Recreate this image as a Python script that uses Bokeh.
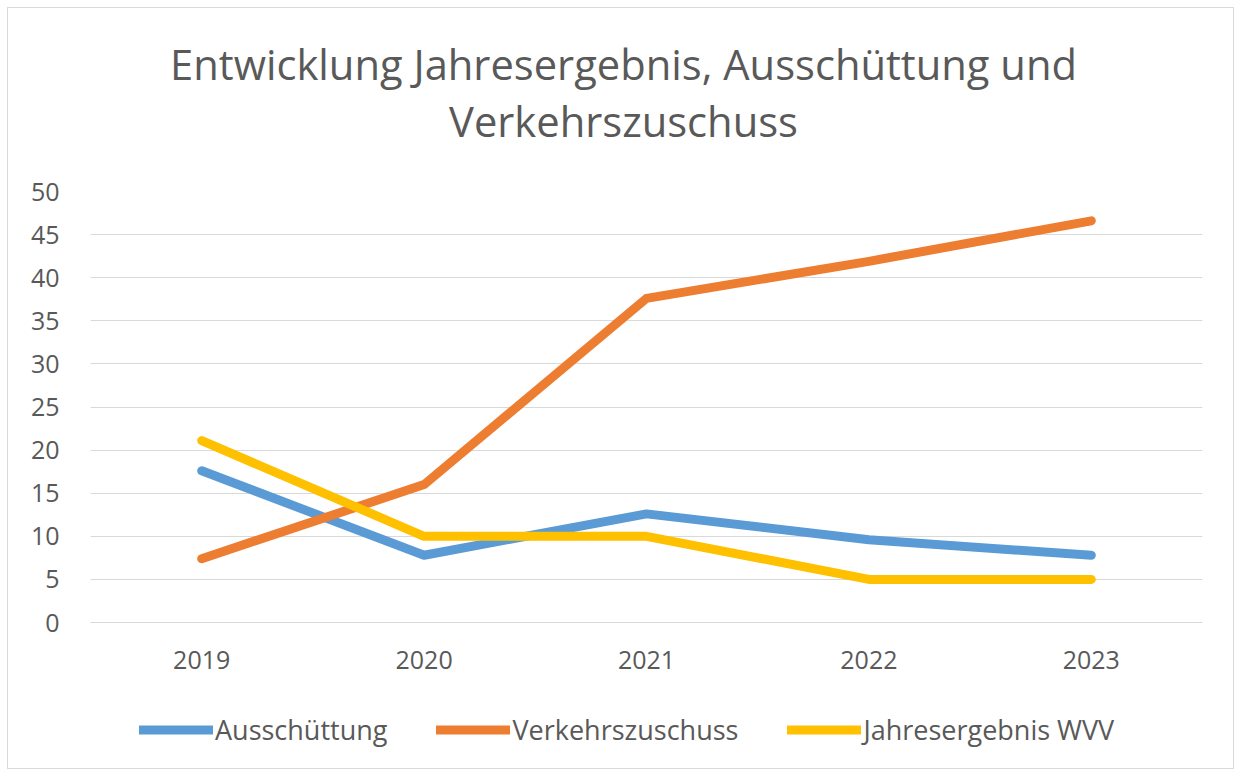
from bokeh.plotting import figure
from bokeh.layouts import column
from bokeh.models import Range1d, FactorRange, Legend, LegendItem, Label
from bokeh.embed import file_html
from bokeh.resources import INLINE

years = ["2019", "2020", "2021", "2022", "2023"]
ausschuettung = [17.6, 7.8, 12.6, 9.6, 7.8]
verkehrszuschuss = [7.4, 16.0, 37.6, 41.9, 46.6]
jahresergebnis = [21.1, 10.0, 10.0, 5.0, 5.0]
title_lines = ["Entwicklung Jahresergebnis, Ausschüttung und", "Verkehrszuschuss"]

series = [
    ("Ausschüttung", ausschuettung, "#5b9bd5"),
    ("Verkehrszuschuss", verkehrszuschuss, "#ed7d31"),
    ("Jahresergebnis WVV", jahresergebnis, "#ffc000"),
]

FONT = "Open Sans"
TXT = "#595959"
W = 1225
BL, BR = 82, 31  # side borders shared by all stacked figures (frames are aligned)


def strip(h, xr, yr):
    fig = figure(width=W, height=h, x_range=xr, y_range=yr,
                 output_backend="svg", toolbar_location=None,
                 x_axis_location=None, y_axis_location=None,
                 min_border_left=BL, min_border_right=BR,
                 min_border_top=0, min_border_bottom=0)
    fig.grid.grid_line_color = None
    fig.outline_line_color = None
    fig.border_fill_color = "white"
    fig.background_fill_color = "white"
    return fig


# ---- title strip (x/y in strip pixels)
TH = 150
pt = strip(TH, Range1d(BL, W - BR), Range1d(0, TH))
for txt, yy in zip(title_lines, [95, 38]):
    pt.add_layout(Label(x=615, y=yy, text=txt, text_align="center", text_baseline="middle",
                        text_font=FONT, text_font_size="41.7px", text_color=TXT))

# ---- main chart
p = figure(width=W, height=540, x_range=FactorRange(*years), y_range=Range1d(0, 50),
           output_backend="svg", toolbar_location=None,
           min_border_left=BL, min_border_right=BR, min_border_top=33, min_border_bottom=76)
p.outline_line_color = None
p.background_fill_color = "white"
p.border_fill_color = "white"

for name, vals, col in series:
    p.line(years, vals, line_color=col, line_width=9, line_cap="round", line_join="round")

p.xgrid.grid_line_color = None
p.ygrid.grid_line_color = "#d9d9d9"
p.ygrid.grid_line_width = 1

p.yaxis.axis_line_color = None
p.yaxis.major_tick_line_color = None
p.yaxis.minor_tick_line_color = None
p.yaxis.major_label_standoff = 25
p.yaxis.ticker = list(range(0, 51, 5))
p.yaxis.major_label_text_font = FONT
p.yaxis.major_label_text_font_size = "25px"
p.yaxis.major_label_text_color = TXT

p.xaxis.axis_line_color = "#d9d9d9"
p.xaxis.major_tick_line_color = None
p.xaxis.minor_tick_line_color = None
p.xaxis.major_label_standoff = 22
p.xaxis.major_label_text_font = FONT
p.xaxis.major_label_text_font_size = "25px"
p.xaxis.major_label_text_color = TXT

# ---- legend strip (legend glyphs come from lines drawn outside the strip's visible range)
pl = strip(70, Range1d(0, 1), Range1d(0, 1))
items = []
for name, vals, col in series:
    r = pl.line(x=[5, 6], y=[5, 6], line_color=col, line_width=9, line_cap="round")
    items.append(LegendItem(label=name, renderers=[r]))
legend = Legend(items=items, orientation="horizontal", location=(49, 20),
                label_text_font=FONT, label_text_font_size="27px", label_text_color=TXT,
                glyph_width=74, glyph_height=37, label_standoff=2, spacing=49,
                border_line_color=None, background_fill_alpha=0, margin=0, padding=0)
pl.add_layout(legend, "center")

lay = column(pt, p, pl, spacing=0, margin=(7, 0, 0, 7),
             styles={"border": "1px solid #d9d9d9"})

open("out.html", "w").write(file_html(lay, INLINE))
